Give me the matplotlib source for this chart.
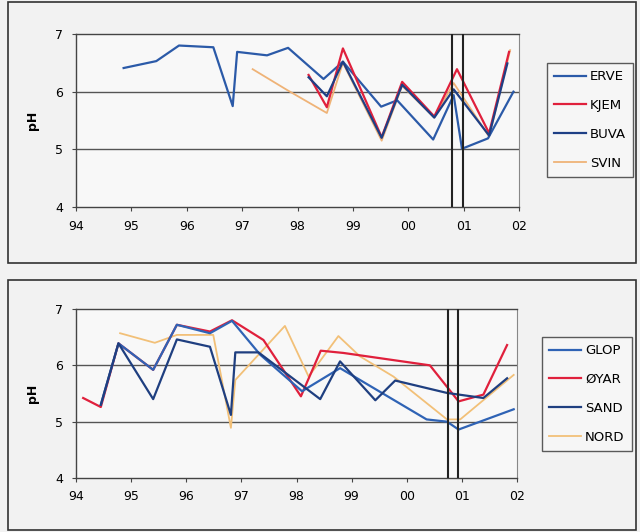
import matplotlib.pyplot as plt
from matplotlib.patches import Rectangle

# --- data: top panel (year as 94..102) ---
erve_x = [94.86, 95.45, 95.86, 96.48, 96.83, 96.91, 97.45, 97.83, 98.47, 98.82,
          99.51, 99.80, 100.45, 100.82, 100.97, 101.44, 101.90]
erve_y = [6.41, 6.53, 6.80, 6.77, 5.75, 6.69, 6.63, 6.76, 6.22, 6.52,
          5.74, 5.85, 5.17, 5.94, 5.01, 5.19, 6.00]
kjem_x = [98.20, 98.53, 98.82, 99.52, 99.89, 100.47, 100.88, 101.46, 101.82]
kjem_y = [6.29, 5.73, 6.75, 5.21, 6.17, 5.57, 6.39, 5.28, 6.69]
buva_x = [98.20, 98.53, 98.82, 99.52, 99.89, 100.47, 100.82, 101.46, 101.79]
buva_y = [6.25, 5.92, 6.52, 5.20, 6.12, 5.55, 6.04, 5.24, 6.49]
svin_x = [97.19, 97.81, 98.53, 98.82, 99.52, 99.89, 100.47, 100.82, 101.46, 101.84]
svin_y = [6.39, 6.03, 5.63, 6.50, 5.15, 6.10, 5.55, 6.15, 5.22, 6.72]

# --- data: bottom panel ---
glop_x = [94.45, 94.77, 95.40, 95.83, 96.43, 96.83, 97.34, 98.10, 98.79,
          100.36, 100.73, 100.94, 101.94]
glop_y = [5.30, 6.39, 5.92, 6.72, 6.57, 6.79, 6.19, 5.54, 5.95,
          5.04, 5.00, 4.86, 5.22]
oyar_x = [94.13, 94.45, 94.77, 95.40, 95.83, 96.43, 96.83, 97.40, 98.08, 98.44,
          98.85, 100.42, 100.94, 101.39, 101.82]
oyar_y = [5.42, 5.26, 6.39, 5.92, 6.72, 6.60, 6.80, 6.45, 5.45, 6.26,
          6.22, 6.00, 5.36, 5.48, 6.36]
sand_x = [94.45, 94.77, 95.40, 95.83, 96.43, 96.81, 96.89, 97.31, 98.43, 98.79,
          99.43, 99.79, 100.73, 101.39, 101.82]
sand_y = [5.30, 6.39, 5.40, 6.46, 6.33, 5.12, 6.23, 6.23, 5.40, 6.07,
          5.38, 5.73, 5.51, 5.42, 5.77]
nord_x = [94.80, 95.43, 95.83, 96.49, 96.81, 96.89, 97.79, 98.22, 98.76, 99.15,
          99.76, 100.73, 100.97, 101.94]
nord_y = [6.57, 6.40, 6.54, 6.54, 4.89, 5.74, 6.70, 5.80, 6.52, 6.16,
          5.80, 5.04, 5.04, 5.83]

year_ticks = [94, 95, 96, 97, 98, 99, 100, 101, 102]
year_labels = ['94', '95', '96', '97', '98', '99', '00', '01', '02']
ph_ticks = [4, 5, 6, 7]

fig = plt.figure(figsize=(6.4, 5.32), dpi=100, facecolor='#f2f2f2')

# ramme rundt hvert diagram
fig.patches.append(Rectangle((8 / 640, 1 - 263 / 532), 628 / 640, 261 / 532,
                             transform=fig.transFigure, fill=False,
                             edgecolor='#333333', lw=1.2))
fig.patches.append(Rectangle((8 / 640, 1 - 530 / 532), 628 / 640, 250 / 532,
                             transform=fig.transFigure, fill=False,
                             edgecolor='#333333', lw=1.2))

ax1 = fig.add_axes([76 / 640, 1 - 207 / 532, 443 / 640, 173 / 532])
ax2 = fig.add_axes([76 / 640, 1 - 478 / 532, 441 / 640, 169 / 532])


def style(ax, vlines):
    ax.set_facecolor('#f8f8f8')
    ax.set_xlim(94, 102)
    ax.set_ylim(4, 7)
    ax.set_xticks(year_ticks)
    ax.set_xticklabels(year_labels)
    ax.set_yticks(ph_ticks)
    ax.tick_params(labelsize=9, length=3, color='#444444', pad=6)
    for y in [5, 6]:
        ax.axhline(y, color='#555555', lw=1.0, zorder=1)
    for s in ['left', 'bottom', 'top']:
        ax.spines[s].set_color('#444444')
        ax.spines[s].set_linewidth(1.0)
    ax.spines['right'].set_color('#888888')
    for v in vlines:
        ax.axvline(v, color='#222222', lw=1.5, zorder=5)
    ax.set_ylabel('pH', fontsize=9, fontweight='bold', labelpad=12)


def add_legend(ax, names, x, y):
    h, l = ax.get_legend_handles_labels()
    order = [l.index(n) for n in names]
    leg = ax.legend([h[i] for i in order], [l[i] for i in order],
                    loc='upper left', bbox_to_anchor=(x / 640, 1 - y / 532),
                    bbox_transform=fig.transFigure, fontsize=9.5, frameon=True,
                    fancybox=False, edgecolor='#333333', labelspacing=1.2,
                    handlelength=2.4, borderpad=0.55, handletextpad=0.3,
                    borderaxespad=0)
    leg.get_frame().set_facecolor('#f8f8f8')


style(ax1, [100.79, 100.99])
ax1.plot(erve_x, erve_y, color='#2b5aa8', lw=1.6, label='ERVE', zorder=3)
ax1.plot(svin_x, svin_y, color='#efb377', lw=1.3, label='SVIN', zorder=2)
ax1.plot(kjem_x, kjem_y, color='#e0203c', lw=1.6, label='KJEM', zorder=3)
ax1.plot(buva_x, buva_y, color='#1e3f85', lw=1.6, label='BUVA', zorder=4)
add_legend(ax1, ['ERVE', 'KJEM', 'BUVA', 'SVIN'], 547, 63)

style(ax2, [100.74, 100.93])
ax2.plot(nord_x, nord_y, color='#f2c078', lw=1.3, label='NORD', zorder=2)
ax2.plot(oyar_x, oyar_y, color='#e0203c', lw=1.6, label='ØYAR', zorder=3)
ax2.plot(glop_x, glop_y, color='#2f63b5', lw=1.6, label='GLOP', zorder=3)
ax2.plot(sand_x, sand_y, color='#1f3f80', lw=1.6, label='SAND', zorder=4)
add_legend(ax2, ['GLOP', 'ØYAR', 'SAND', 'NORD'], 542, 337)

plt.savefig('out.png', dpi=100, facecolor=fig.get_facecolor())
